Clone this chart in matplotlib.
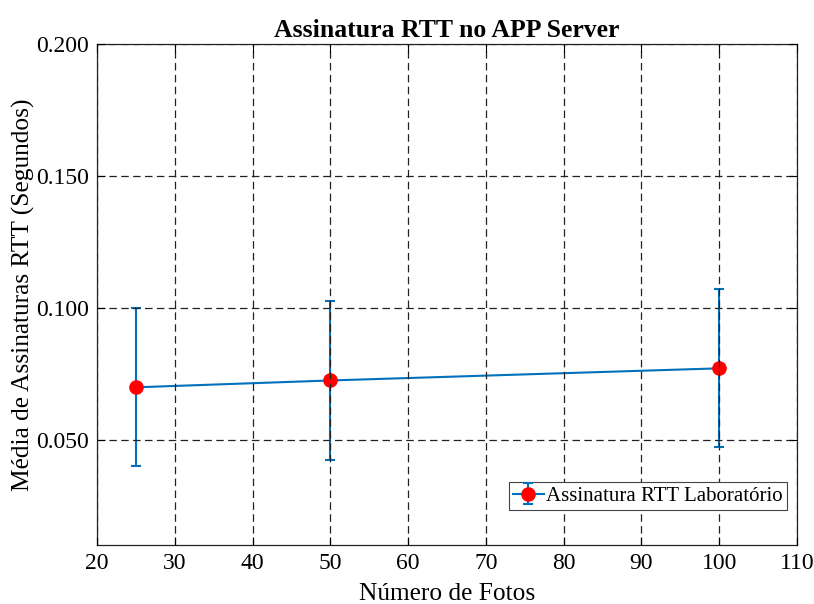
import matplotlib
matplotlib.use("Agg")
import matplotlib.pyplot as plt
from matplotlib.ticker import FormatStrFormatter

plt.rcParams['font.family'] = ['Liberation Serif', 'DejaVu Serif']
plt.rcParams['mathtext.fontset'] = 'stix'

# Number of photos and mean RTT of signatures (seconds)
num_fotos = [25, 50, 100]
media_rtt = [0.0698, 0.0724, 0.0770]
erro_rtt = [0.0300, 0.0300, 0.0300]

x_ticks = [20, 30, 40, 50, 60, 70, 80, 90, 100, 110]
y_ticks = [0.050, 0.100, 0.150, 0.200]

fig = plt.figure(figsize=(8.14, 6.04), dpi=100)
ax = fig.add_axes([97 / 814, 1 - 545 / 604, 700 / 814, 501 / 604])

ax.errorbar(num_fotos, media_rtt, yerr=erro_rtt, color='#0072BD', lw=1.5,
            elinewidth=1.5, capsize=3.5, capthick=1.5,
            marker='o', markersize=9.5, markerfacecolor='red',
            markeredgecolor='red', label='Assinatura RTT Laboratório',
            zorder=2)

ax.set_xlim(20, 110)
ax.set_ylim(0.01, 0.2)
ax.set_xticks(x_ticks)
ax.set_yticks(y_ticks)
ax.yaxis.set_major_formatter(FormatStrFormatter('%.3f'))

ax.grid(True, color='#222222', linestyle=(0, (6, 3.5)), linewidth=0.9, zorder=3)
ax.set_axisbelow(False)
for s in ax.spines.values():
    s.set_linewidth(0.9)
    s.set_color('#222222')

ax.tick_params(direction='in', top=True, right=True, length=6, width=0.8,
               labelsize=17, pad=6)

ax.set_xlabel('Número de Fotos', fontsize=18.3, labelpad=6)
ax.set_ylabel('Média de Assinaturas RTT (Segundos)', fontsize=18.3, labelpad=0.5)
ax.set_title('Assinatura RTT no APP Server', fontsize=18.5, fontweight='bold', pad=5)

leg = ax.legend(loc='lower right', bbox_to_anchor=(0.9857, 0.0699),
                fontsize=15, fancybox=False, framealpha=1,
                edgecolor='#444444', borderpad=0.2, handlelength=1.5,
                handletextpad=0.1, borderaxespad=0)
leg.get_frame().set_linewidth(0.8)
leg.set_zorder(5)

fig.savefig('out.png', dpi=100)
